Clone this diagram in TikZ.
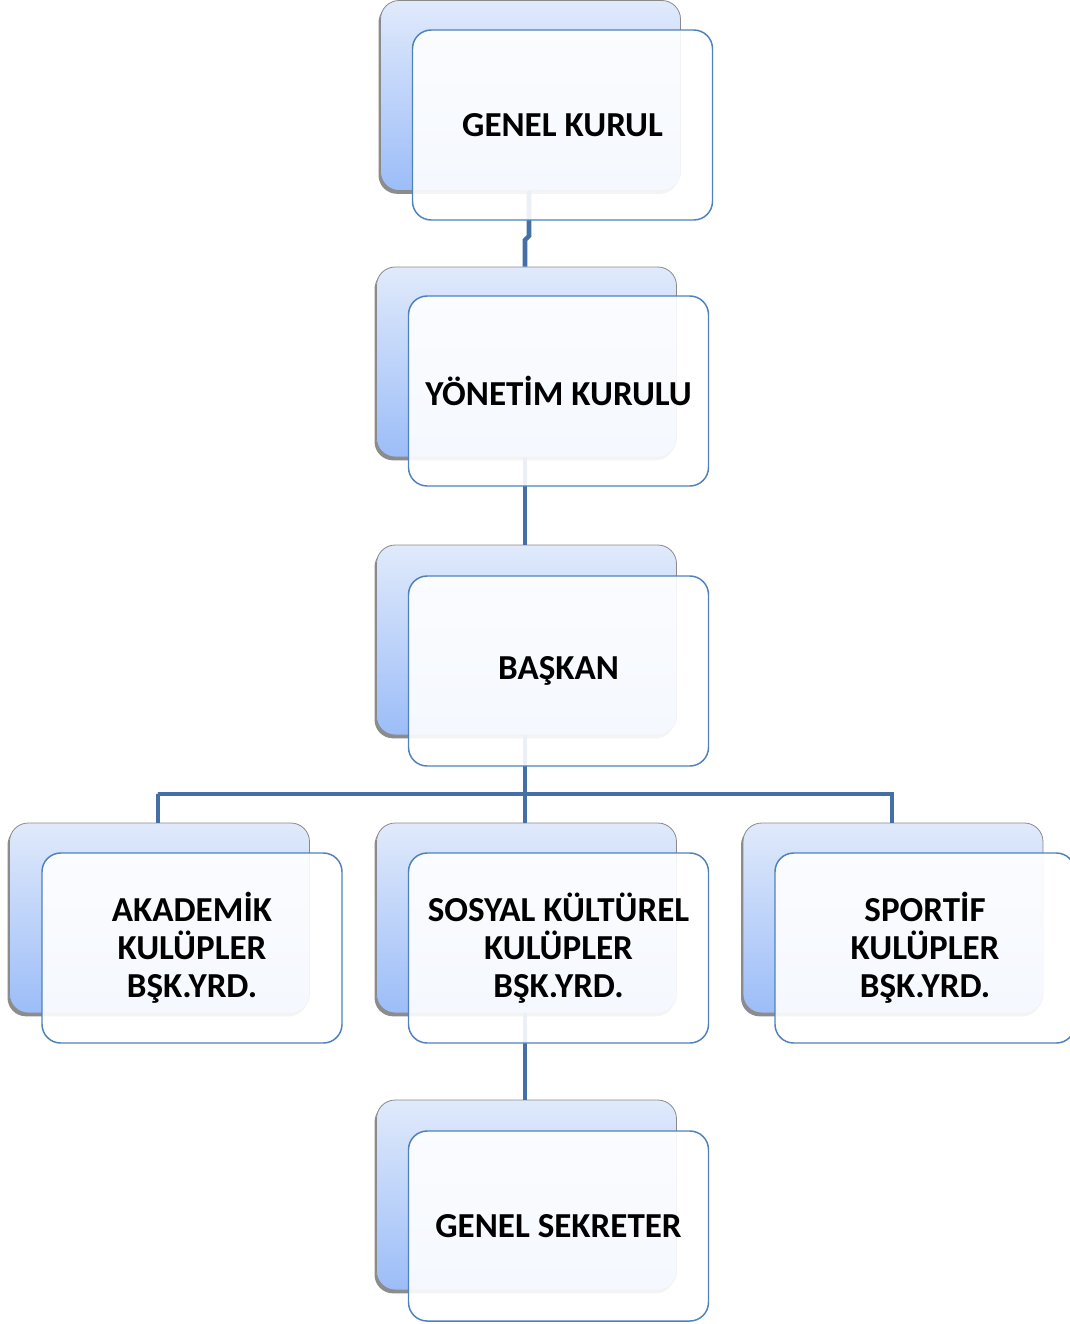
\documentclass[tikz,border=0pt]{standalone}
\usepackage{fontspec}
\setmainfont{Carlito}
\usetikzlibrary{shadows}
\definecolor{linec}{HTML}{4470A6}
\definecolor{frontc}{HTML}{4F81BD}
\definecolor{backtop}{HTML}{E0EAFB}
\definecolor{backbot}{HTML}{9CBDF8}
\definecolor{backline}{HTML}{8A8A8A}
\begin{document}
\begin{tikzpicture}[x=0.75pt,y=-0.75pt,
  backbox/.style={draw=backline, line width=0.6pt, rounded corners=14pt,
    top color=backtop, bottom color=backbot,
    minimum width=225pt, minimum height=142.5pt, inner sep=0pt,
    drop shadow={shadow xshift=-1.5pt, shadow yshift=-2.5pt, opacity=0.45, fill=black}},
  frontbox/.style={draw=frontc, line width=1.1pt, rounded corners=14pt,
    fill=white, fill opacity=0.9, draw opacity=1, text opacity=1,
    minimum width=225pt, minimum height=142.5pt, inner sep=0pt,
    align=center, font=\bfseries\fontsize{26.3}{28.5}\selectfont},
  conn/.style={draw=linec, line width=3.4pt}]
\useasboundingbox (0,0) rectangle (1070,1324);
% back boxes
\node[backbox] (gkB) at (530.5,95.5) {};
\node[backbox] (ykB) at (526.5,362) {};
\node[backbox] (bsB) at (526.5,640) {};
\node[backbox] (akB) at (159.5,918) {};
\node[backbox] (skB) at (526.5,918) {};
\node[backbox] (spB) at (893,918) {};
\node[backbox] (gsB) at (526.5,1195) {};
% connectors
\coordinate (jog) at (529,236);
\coordinate (hbar) at (525,794);
\draw[conn] (gkB.south -| jog) -- (jog) -- ++(-4,4) -- (ykB.north -| hbar);
\draw[conn] (ykB.south -| hbar) -- (bsB.north -| hbar);
\draw[conn] (bsB.south -| hbar) -- (hbar);
\draw[conn] (hbar) -- (skB.north -| hbar);
\draw[conn] (158,794) -| ([xshift=-1.1pt]akB.north);
\draw[conn] (158,794) -- (892,794) -- ([xshift=-0.75pt]spB.north);
\draw[conn] (skB.south -| hbar) -- (gsB.north -| hbar);
% front boxes
\node[frontbox] (gkF) at (562.5,125) {GENEL KURUL};
\node[frontbox] (ykF) at (558.5,391) {YÖNETİM KURULU};
\node[frontbox] (bsF) at (558.5,671) {BAŞKAN};
\node[frontbox] (akF) at (192,948) {AKADEMİK\\KULÜPLER\\BŞK.YRD.};
\node[frontbox] (skF) at (558.5,948) {SOSYAL KÜLTÜREL\\KULÜPLER\\BŞK.YRD.};
\node[frontbox] (spF) at (925,948) {SPORTİF\\KULÜPLER\\BŞK.YRD.};
\node[frontbox] (gsF) at (558.5,1226) {GENEL SEKRETER};
\end{tikzpicture}
\end{document}
